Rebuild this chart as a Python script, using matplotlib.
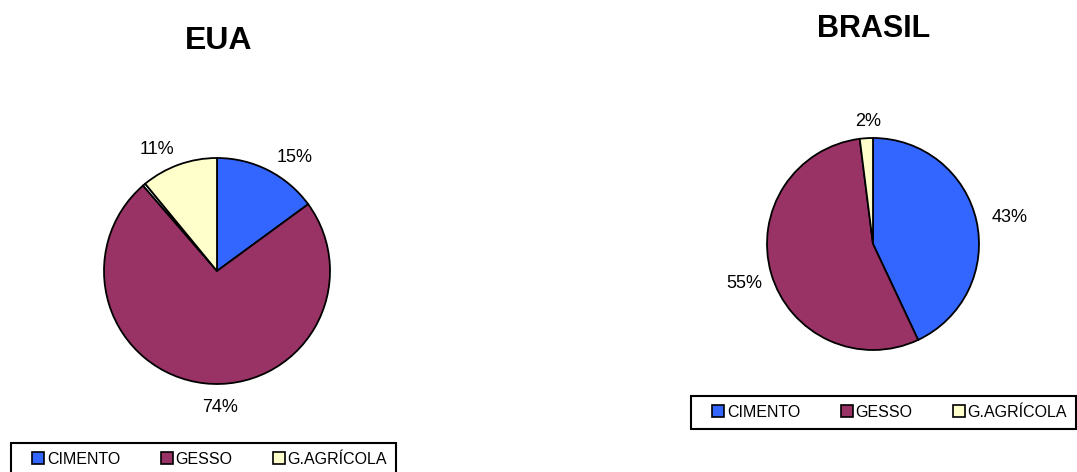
import matplotlib.pyplot as plt
from matplotlib.lines import Line2D

plt.rcParams['font.family'] = ['Liberation Sans', 'DejaVu Sans']

categorias = ['CIMENTO', 'GESSO', 'G.AGRÍCOLA']
cores = ['#3366FF', '#993366', '#FFFFCC']

# EUA: a white sliver sits between GESSO and G.AGRICOLA in the original
eua_vals = [15, 74, 0.4, 11]
eua_cores = [cores[0], cores[1], '#FFFFFF', cores[2]]
eua_txt = ['15%', '74%', '', '11%']

brasil_vals = [43, 55, 2]
brasil_txt = ['43%', '55%', '2%']

W, H = 1077, 472
fig = plt.figure(figsize=(W / 100, H / 100), dpi=100)
ax = fig.add_axes([0, 0, 1, 1])

def y(py):
    return H - py

wp = dict(edgecolor='black', linewidth=1.3)
ax.pie(eua_vals, colors=eua_cores, startangle=90, counterclock=False,
       center=(217, y(271)), radius=113, wedgeprops=wp, frame=True)
ax.pie(brasil_vals, colors=cores, startangle=90, counterclock=False,
       center=(873, y(244)), radius=106, wedgeprops=wp, frame=True)

# label placement (pixel positions of the original)
eua_pos = [(295, 158), (220, 408), None, (157, 150)]
brasil_pos = [(1010, 218), (744, 283), (868, 121)]
for t, p in zip(eua_txt, eua_pos):
    if p:
        ax.text(p[0], y(p[1]), t, ha='center', va='center', fontsize=13)
for t, p in zip(brasil_txt, brasil_pos):
    ax.text(p[0], y(p[1]), t, ha='center', va='center', fontsize=13)

ax.text(219, y(41), 'EUA', ha='center', va='center', fontsize=23, fontweight='bold')
ax.text(874, y(29), 'BRASIL', ha='center', va='center', fontsize=22, fontweight='bold')

handles = [Line2D([], [], marker='s', linestyle='none', markersize=8,
                  markerfacecolor=c, markeredgecolor='black', markeredgewidth=1.2)
           for c in cores]
leg_kw = dict(ncol=3, loc='upper left', bbox_transform=ax.transData,
              fontsize=11.5, frameon=True, fancybox=False, framealpha=1,
              edgecolor='black', handlelength=2.3, handletextpad=-0.6,
              columnspacing=1.75, borderpad=0.55, borderaxespad=0)
l1 = ax.legend(handles, categorias, bbox_to_anchor=(11, y(443)), **leg_kw)
l1.get_frame().set_linewidth(1.5)
ax.add_artist(l1)
l2 = ax.legend(handles, categorias, bbox_to_anchor=(691, y(396)), **leg_kw)
l2.get_frame().set_linewidth(1.5)

ax.set_xlim(0, W)
ax.set_ylim(0, H)
ax.set_aspect('auto')
ax.axis('off')

fig.savefig('out.png', dpi=100, facecolor='white')
